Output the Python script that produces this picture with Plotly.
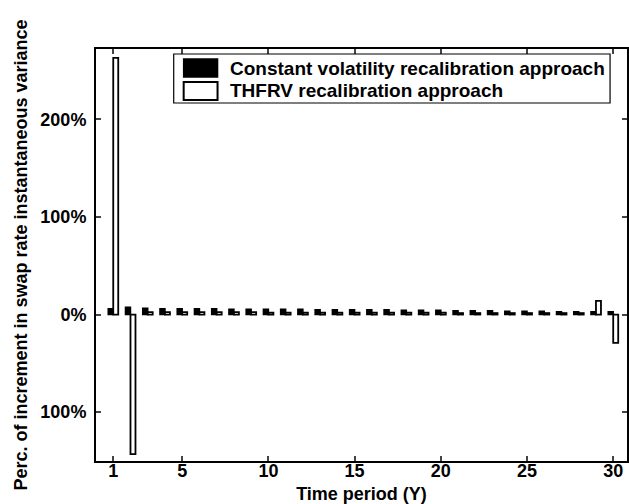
import plotly.graph_objects as go

years = list(range(1, 31))
const_vol = [6, 7.5, 6.5, 6, 6, 6, 6, 5.5, 5.5, 5.5, 5.5, 5.5, 5, 5, 5, 5, 5, 4.5, 4.5, 4.5,
             4, 4, 4, 3.5, 3.5, 3.5, 3, 3, 3, 3]
thfrv = [263, -143, 2.5, 2.5, 2.5, 2.5, 2.5, 2.5, 2.5, 2, 2, 2, 2, 2, 2, 2, 2, 2, 2, 2,
         1.5, 1.5, 1.5, 1.5, 1.5, 1.5, 1.5, 1.5, 14, -29]
series_names = ["Constant volatility recalibration approach", "THFRV recalibration approach"]
x_ticks = [1, 5, 10, 15, 20, 25, 30]
y_ticks = [200, 100, 0, -100]
y_ticktext = ["200%", "100%", "0%", "100%"]

FONT = "Liberation Sans, Arial, sans-serif"

fig = go.Figure()
fig.add_trace(go.Bar(x=years, y=const_vol, name=series_names[0],
                     marker=dict(color="black", line=dict(color="black", width=1.5))))
fig.add_trace(go.Bar(x=years, y=thfrv, name=series_names[1],
                     marker=dict(color="white", line=dict(color="black", width=1.8))))

W, H = 629, 504
L, R, T, B = 96, 0, 49, 43
pw, ph = W - L - R, H - T - B

def px(x):
    return (x - L) / pw

def py(y):
    return (H - B - y) / ph

# hand-drawn legend (box + swatches + labels)
shapes = [
    dict(type="rect", xref="paper", yref="paper", x0=px(174), x1=px(612), y0=py(103), y1=py(54),
         line=dict(color="black", width=1.2), fillcolor="white", layer="above"),
    dict(type="rect", xref="paper", yref="paper", x0=px(184), x1=px(218), y0=py(77), y1=py(59),
         line=dict(color="black", width=1.5), fillcolor="black", layer="above"),
    dict(type="rect", xref="paper", yref="paper", x0=px(184), x1=px(218), y0=py(100), y1=py(82),
         line=dict(color="black", width=2), fillcolor="white", layer="above"),
]
annotations = [
    dict(xref="paper", yref="paper", x=px(228), y=py(68), text=series_names[0], showarrow=False,
         xanchor="left", yanchor="middle", font=dict(family=FONT, size=19, color="black", weight="bold")),
    dict(xref="paper", yref="paper", x=px(228), y=py(91), text=series_names[1], showarrow=False,
         xanchor="left", yanchor="middle", font=dict(family=FONT, size=19, color="black", weight="bold")),
]

fig.update_layout(
    width=W, height=H,
    margin=dict(l=L, r=R, t=T, b=B, pad=0),
    paper_bgcolor="white", plot_bgcolor="white",
    barmode="group", bargap=0.42, bargroupgap=0,
    showlegend=False,
    font=dict(family=FONT, size=18, color="black", weight="bold"),
    shapes=shapes, annotations=annotations,
)
fig.update_xaxes(range=[0, 30.8], tickvals=x_ticks, ticks="inside", ticklen=5, tickwidth=1.5,
                 showline=True, linecolor="black", linewidth=2, mirror="ticks",
                 showgrid=False, zeroline=False, ticklabelstandoff=-8,
                 title=dict(text="Time period (Y)", standoff=10, font=dict(size=18, weight="bold")))
fig.update_yaxes(range=[-150, 272], tickvals=y_ticks, ticktext=y_ticktext, ticks="inside", ticklen=5,
                 tickwidth=1.5, showline=True, linecolor="black", linewidth=2, mirror="ticks",
                 showgrid=False, zeroline=False, ticklabelstandoff=4,
                 title=dict(text="Perc. of increment in swap rate instantaneous variance", standoff=8,
                            font=dict(size=18, weight="bold")))

fig.write_html("out.html")
